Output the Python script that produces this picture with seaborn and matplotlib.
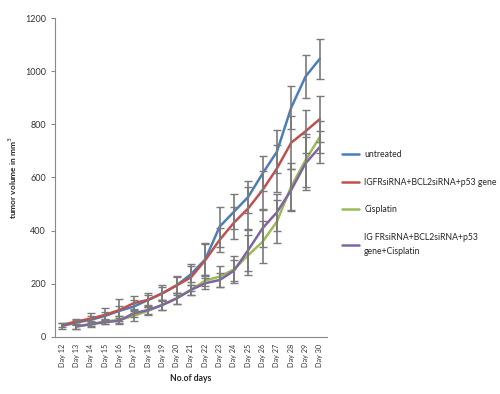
import numpy as np
import pandas as pd
import matplotlib
matplotlib.use("Agg")
import matplotlib.pyplot as plt
import seaborn as sns

days = ["Day %d" % d for d in range(12, 31)]

untreated = [41, 54, 64, 79, 98, 114, 139, 164, 194, 236, 292, 415, 471, 527, 615, 697, 863, 980, 1047]
untreated_err = [10, 10, 15, 15, 20, 25, 20, 25, 30, 30, 60, 75, 65, 60, 65, 80, 80, 80, 75]

gene = [45, 58, 69, 83, 101, 127, 139, 164, 194, 224, 289, 365, 430, 484, 553, 634, 731, 774, 820]
gene_err = [8, 8, 20, 25, 42, 25, 25, 30, 35, 50, 60, 45, 60, 80, 70, 90, 100, 80, 85]

cisplatin = [np.nan, 39, 48, 58, 64, 79, 98, 120, 145, 177, 212, 227, 254, 308, 358, 434, 566, 665, 753]
cisplatin_err = [0, 10, 12, 10, 15, 20, 15, 20, 20, 20, 20, 40, 50, 75, 80, 80, 90, 100, 60]

combo = [np.nan, 39, 48, 55, 61, 89, 101, 120, 145, 177, 202, 214, 249, 327, 409, 469, 553, 653, 715]
combo_err = [0, 8, 8, 8, 10, 15, 15, 20, 20, 20, 20, 25, 40, 80, 70, 70, 80, 100, 60]

labels = ["untreated",
          "IGFRsiRNA+BCL2siRNA+p53 gene",
          "Cisplatin",
          "IG FRsiRNA+BCL2siRNA+p53\ngene+Cisplatin"]
colors = ["#4A7EBB", "#C0504D", "#9BBB59", "#8064A2"]

series = [untreated, gene, cisplatin, combo]
errors = [untreated_err, gene_err, cisplatin_err, combo_err]

rows = []
for lab, vals, errs in zip(labels, series, errors):
    for i, (v, e) in enumerate(zip(vals, errs)):
        rows.append({"pos": i, "day": days[i], "volume": v, "err": e, "group": lab})
df = pd.DataFrame(rows)

sns.set_style("white")
plt.rcParams["font.family"] = ["Lato", "DejaVu Sans"]

fig = plt.figure(figsize=(5, 3.94), dpi=100)
ax = fig.add_axes([0.11, 0.145, 0.544, 0.809])

for lab, col in zip(labels, colors):
    sub = df[df["group"] == lab].dropna(subset=["volume"])
    eb = ax.errorbar(sub["pos"], sub["volume"], yerr=sub["err"], fmt="none",
                     ecolor="#7a7a7a", elinewidth=1.2, capsize=3, capthick=1, zorder=3)
    for cl in eb[1]:
        cl.set_color("#111111")

sns.lineplot(data=df.dropna(subset=["volume"]), x="pos", y="volume", hue="group",
             hue_order=labels, palette=colors, linewidth=1.8, ax=ax, zorder=2,
             estimator=None, sort=True)

ax.set_xlim(-0.5, len(days) - 0.5)
ax.set_ylim(0, 1200)
ax.set_yticks(range(0, 1201, 200))
ax.set_xticks(range(len(days)))
ax.set_xticklabels(days, rotation=90, fontsize=5.2, color="#333333")
ax.set_xticks(np.arange(-0.5, len(days), 1), minor=True)
ax.tick_params(axis="x", which="major", length=0, pad=5)
ax.tick_params(axis="x", which="minor", length=3, color="#888888", direction="out")
ax.tick_params(axis="y", labelsize=6.5, labelcolor="#333333", length=3,
               color="#888888", direction="out", left=True)

for s in ["top", "right"]:
    ax.spines[s].set_visible(False)
for s in ["left", "bottom"]:
    ax.spines[s].set_color("#888888")
    ax.spines[s].set_linewidth(0.8)

ax.set_xlabel("No.of days", fontsize=6.2, fontweight="bold", labelpad=5)
ax.set_ylabel("tumor volume in mm$^3$", fontsize=6, fontweight="bold", labelpad=4)

handles, _ = ax.get_legend_handles_labels()
leg = ax.legend(handles, labels, loc="upper left", bbox_to_anchor=(0.668, 0.64),
                bbox_transform=fig.transFigure, frameon=False, fontsize=6.2,
                handlelength=2.0, handletextpad=0.6, labelspacing=2.2)
for t in leg.get_texts():
    t.set_linespacing(1.6)

fig.savefig("out.png", dpi=100)
